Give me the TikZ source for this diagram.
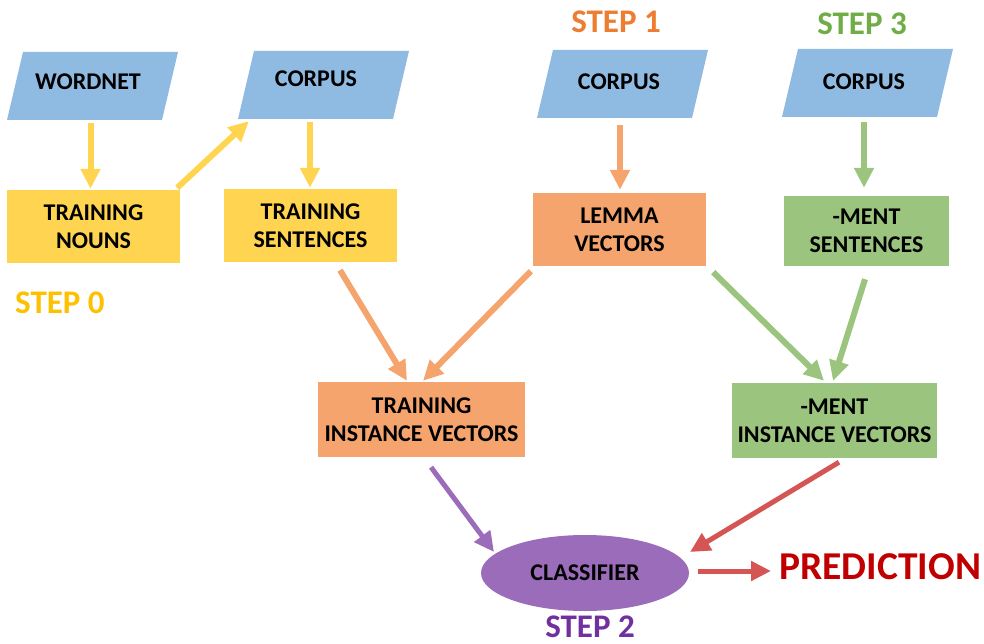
\documentclass[tikz,border=0pt]{standalone}
\usepackage{fontspec}
\setmainfont{Carlito}
\usetikzlibrary{arrows.meta,shapes.geometric,calc}
\definecolor{cblue}{RGB}{143,187,227}
\definecolor{cyel}{RGB}{255,212,80}
\definecolor{cora}{RGB}{244,164,108}
\definecolor{cgrn}{RGB}{155,197,126}
\definecolor{cpur}{RGB}{155,108,185}
\definecolor{cred}{RGB}{213,84,84}
\definecolor{tpred}{RGB}{192,0,0}
\definecolor{tstep0}{RGB}{255,192,0}
\definecolor{tstep1}{RGB}{237,125,49}
\definecolor{tstep2}{RGB}{112,48,160}
\definecolor{tstep3}{RGB}{112,173,71}
\tikzset{
  boxtext/.style={font=\bfseries\fontsize{24}{28}\selectfont, align=center, text=black},
  stepbox/.style={boxtext, rectangle, inner sep=0pt},
  paratext/.style={boxtext, inner sep=0pt},
  steplabel/.style={font=\bfseries\fontsize{33}{38}\selectfont, inner sep=0pt, anchor=base},
  arr/.style={line width=6pt, -{Triangle[length=20pt,width=19pt]}},
}
\newcommand\paragm[6]{% name, x-left-bottom, y-top, text, text x, text y
  \fill[cblue] (#2,#3+68) -- (#2+16,#3) -- (#2+171,#3) -- (#2+155,#3+68) -- cycle;
  \node[paratext, minimum width=155pt, minimum height=68pt] (#1) at (#2+85.5,#3+34) {};
  \node[paratext] (#1t) at (#5,#6) {#4};
}
\begin{document}
\begin{tikzpicture}[x=1pt,y=-1pt]
\useasboundingbox (0,0) rectangle (984,644);
% parallelograms
\paragm{wordnet}{7}{52}{WORDNET}{88}{82}
\paragm{corpusA}{238}{51}{CORPUS}{316}{79}
\paragm{corpusB}{537}{50}{CORPUS}{619}{82}
\paragm{corpusC}{782}{49}{CORPUS}{864}{82}
% boxes
\node[stepbox, fill=cyel, minimum width=173pt, minimum height=73pt] (nouns) at (93.5,226.5) {TRAINING\\NOUNS};
\node[stepbox, fill=cyel, minimum width=173pt, minimum height=73pt] (sents) at (310.5,225.5) {TRAINING\\SENTENCES};
\node[stepbox, fill=cora, minimum width=173pt, minimum height=73pt] (lemma) at (619.5,229.5) {LEMMA\\VECTORS};
\node[stepbox, fill=cgrn, minimum width=165pt, minimum height=70pt] (msent) at (866.5,231) {-MENT\\SENTENCES};
\node[stepbox, fill=cora, minimum width=207pt, minimum height=75pt] (tiv) at (421.5,419.5) {TRAINING\\INSTANCE VECTORS};
\node[stepbox, fill=cgrn, minimum width=205pt, minimum height=75pt] (miv) at (834.5,420.5) {-MENT\\INSTANCE VECTORS};
\node[ellipse, fill=cpur, minimum width=208pt, minimum height=76pt, inner sep=0pt, boxtext] (clf) at (585,573) {CLASSIFIER};
\node[anchor=west, inner sep=0pt, text=tpred, font=\bfseries\fontsize{39.5}{45}\selectfont] (pred) at (779,567) {PREDICTION};
% step labels
\node[steplabel, text=tstep0, anchor=base west] (s0) at (15,313) {STEP 0};
\node[steplabel, text=tstep1] (s1) at (616,33) {STEP 1};
\node[steplabel, text=tstep3] (s3) at (862,35) {STEP 3};
\node[steplabel, text=tstep2] (s2) at (590,637) {STEP 2};
% arrows step 0
\draw[arr, cyel] ($(wordnet.south)+(-2,3)$) -- ($(nouns.north)+(-3,-1)$);
\draw[arr, cyel] ($(nouns.north east)+(-3,-2)$) -- ($(corpusA.south west)+(3,2)$);
\draw[arr, cyel] ($(corpusA.south)+(-13.5,3)$) -- ($(sents.north)+(-0.5,-1)$);
% step 1
\draw[arr, cora] ($(corpusB.south)+(-2.5,7)$) -- ($(lemma.north)+(0.5,-3)$);
\draw[arr, cora] ($(sents.south)+(29.5,8)$) -- ($(tiv.north)+(-14.5,-1)$);
\draw[arr, cora] ($(lemma.south west)+(-2,5)$) -- ($(tiv.north)+(1.5,-1)$);
% step 3
\draw[arr, cgrn] ($(corpusC.south)+(-3.5,5)$) -- ($(msent.north)+(-2.5,-8)$);
\draw[arr, cgrn] ($(lemma.south east)+(7,6)$) -- ($(miv.north)+(-10.5,-2)$);
\draw[arr, cgrn] ($(msent.south)+(-1.5,13)$) -- ($(miv.north)+(-1.5,-2)$);
% step 2
\draw[arr, cpur, line width=5pt] ($(tiv.south)+(9.5,10)$) -- ($(clf.center)+(-91,-21)$);
\draw[arr, cred, line width=5pt] ($(miv.south)+(4.5,4)$) -- ($(clf.center)+(105,-21)$);
\draw[arr, cred, line width=5pt] ($(clf.east)+(9,-2)$) -- ($(pred.west)+(-8,4)$);
\end{tikzpicture}
\end{document}
